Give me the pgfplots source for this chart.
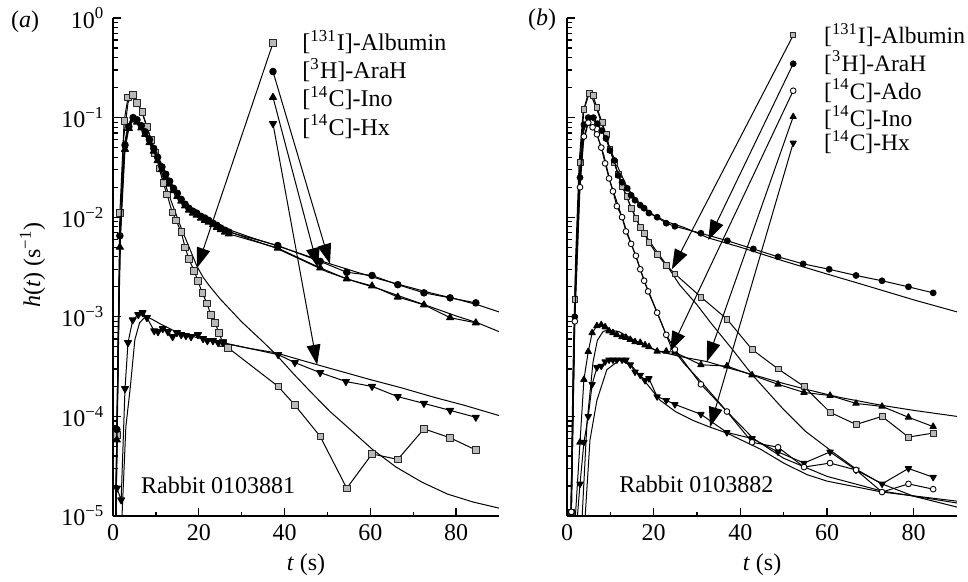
\documentclass[border=0pt]{standalone}
\usepackage{fontspec}
\setmainfont{Liberation Serif}
\usepackage{pgfplots}
\pgfplotsset{compat=1.18}
\usetikzlibrary{arrows.meta}

\pgfplotsset{
  sFit/.style={black, line width=0.4pt, no marks},
  sDat/.style={black, line width=0.4pt, line join=round},
  sAlb/.style={sDat, mark=square*, mark options={fill=gray!55, draw=black!85, line width=0.3pt}},
  sAra/.style={sDat, mark=*, mark options={fill=black}},
  sAdo/.style={sDat, mark=*, mark options={fill=white, draw=black, line width=0.35pt}},
  sIno/.style={sDat, mark=triangle*, mark options={fill=black}},
  sHx/.style={sDat, mark=triangle*, mark options={fill=black, rotate=180}},
  sArr/.style={black, line width=0.4pt, -{Triangle[length=8pt,width=5.5pt]}, mark indices={1}},
}

\begin{document}
\fontsize{9.6pt}{11pt}\selectfont
\begin{tikzpicture}
\useasboundingbox (0,0) rectangle (387.2pt,232.4pt);

% ---------- panel (a) ----------
\begin{axis}[at={(45.2pt,26pt)}, anchor=south west, scale only axis,
  width=154.4pt, height=199.2pt, clip mode=individual,
  ymode=log, xmin=0, xmax=90, ymin=1e-5, ymax=1,
  axis lines=left, axis line style={-, line width=0.6pt},
  xtick={0,20,40,60,80}, minor x tick num=1,
  ytick={1e-5,1e-4,1e-3,1e-2,1e-1,1},
  minor ytick={2e-5,3e-5,4e-5,5e-5,6e-5,7e-5,8e-5,9e-5,
               2e-4,3e-4,4e-4,5e-4,6e-4,7e-4,8e-4,9e-4,
               2e-3,3e-3,4e-3,5e-3,6e-3,7e-3,8e-3,9e-3,
               2e-2,3e-2,4e-2,5e-2,6e-2,7e-2,8e-2,9e-2,
               0.2,0.3,0.4,0.5,0.6,0.7,0.8,0.9},
  tick align=inside, tick style={black, line width=0.5pt},
  major tick length=3.2pt, minor tick length=1.8pt,
  /pgf/number format/assume math mode=true,
  yticklabels={10\textsuperscript{−5},10\textsuperscript{−4},10\textsuperscript{−3},10\textsuperscript{−2},10\textsuperscript{−1},10\textsuperscript{0}},
  mark size=1.3pt]
% fits
\addplot[sFit] coordinates {(0.7,1e-5)(1.2,3.2e-4)(1.7,6.3e-3)(2.5,0.063)(3.5,0.141)(4.5,0.174)(5.5,0.151)(7,0.105)(8.5,0.068)(10,0.043)(12,0.0224)(14,0.0129)(16,0.0076)(18,0.0047)(19.6,0.0032)(21,0.0025)(22.5,0.00204)(25,0.00151)(30,0.00089)(35,0.00056)(38.2,0.00041)(42,0.00027)(46,0.000178)(50.6,0.000112)(55,7.6e-5)(60.4,4.7e-5)(66,3.1e-5)(72,2.19e-5)(78,1.66e-5)(84,1.38e-5)(90,1.2e-5)};
\addplot[sFit] coordinates {(0.7,1e-5)(1.0,1.2e-4)(1.3,1.1e-3)(1.7,7e-3)(2.2,0.028)(2.8,0.058)(3.5,0.084)(4.5,0.098)(5.5,0.092)(7,0.075)(8.5,0.058)(10,0.043)(12,0.028)(14,0.0200)(16,0.0152)(18,0.0125)(20,0.0108)(23,0.0092)(27,0.0075)(32,0.0063)(38,0.0052)(44,0.00427)(50,0.00347)(56,0.00288)(62,0.0024)(68,0.00204)(74,0.00174)(80,0.00151)(85,0.00132)(90,0.00112)};
\addplot[sFit] coordinates {(0.7,1e-5)(1.0,1e-4)(1.3,9e-4)(1.7,6e-3)(2.2,0.025)(2.8,0.053)(3.5,0.079)(4.5,0.093)(5.5,0.088)(7,0.072)(8.5,0.055)(10,0.041)(12,0.027)(14,0.0192)(16,0.0146)(18,0.012)(20,0.0104)(23,0.0088)(27,0.0072)(32,0.0060)(38,0.0049)(44,0.00372)(50,0.00282)(56,0.00229)(62,0.00191)(68,0.00155)(74,0.00126)(80,0.00102)(85,0.00087)(90,0.00071)};
\addplot[sFit] coordinates {(2.1,1e-5)(3.0,7.9e-5)(4.0,1.9e-4)(5.1,5.9e-4)(6.2,8.7e-4)(7.5,1.0e-3)(9,9.5e-4)(11,8.5e-4)(13.8,7.4e-4)(17,6.6e-4)(21.5,5.9e-4)(26,5.4e-4)(32,4.8e-4)(37.8,4.37e-4)(43.6,3.7e-4)(50,3.09e-4)(55,2.69e-4)(60,2.34e-4)(67,1.95e-4)(75,1.55e-4)(82,1.29e-4)(90,1.02e-4)};
% data
\addplot[sAlb] coordinates {(0.4,3e-6)(0.9,6.5e-5)(1.6,1.1e-2)(2.6,0.093)(3.5,0.16)(4.6,0.17)(5.6,0.14)(6.8,0.114)(7.9,0.081)(8.9,0.06)(9.8,0.044)(10.8,0.031)(11.7,0.022)(12.6,0.017)(13.8,0.0112)(14.7,0.0093)(15.9,0.0071)(16.8,0.0050)(17.7,0.0038)(18.9,0.0029)(19.8,0.0023)(20.8,0.00174)(21.9,0.00137)(22.8,0.00105)(23.8,0.00087)(24.7,0.00069)(25.6,0.00055)(26.8,0.00049)(38.5,0.00020)(42.4,0.00013)(48.3,6.3e-5)(54.5,1.9e-5)(60.4,4.2e-5)(66.4,3.7e-5)(72.5,7.5e-5)(78.6,6.1e-5)(84.6,4.6e-5)};
\addplot[sIno, mark size=1.6pt] coordinates {(0.4,3e-6)(0.9,5.8e-5)(1.6,5e-3)(2.8,0.048)(3.7,0.078)(4.7,0.095)(5.6,0.09)(6.6,0.079)(7.5,0.068)(8.5,0.056)(9.5,0.046)(10.4,0.037)(11.4,0.030)(12.3,0.025)(13.2,0.0215)(14.1,0.0185)(15.0,0.0162)(15.9,0.0145)(16.8,0.013)(17.7,0.0118)(18.6,0.011)(19.5,0.0105)(20.5,0.0098)(21.4,0.0093)(22.3,0.0089)(23.3,0.0084)(24.2,0.0079)(25.1,0.0075)(26.1,0.0071)(27.0,0.0068)(38.4,0.0049)(48.3,0.0031)(54.5,0.0024)(60.4,0.00204)(66.4,0.00158)(72.5,0.00132)(78.6,0.00098)(84.6,0.00087)};
\addplot[sAra] coordinates {(0.4,3e-6)(0.9,7.4e-5)(1.6,6.5e-3)(2.8,0.053)(3.7,0.081)(4.7,0.10)(5.6,0.095)(6.6,0.083)(7.5,0.072)(8.5,0.060)(9.5,0.049)(10.4,0.040)(11.4,0.032)(12.3,0.027)(13.2,0.023)(14.1,0.0195)(15.0,0.0174)(15.9,0.0151)(16.8,0.0135)(17.7,0.0123)(18.6,0.0115)(19.5,0.011)(20.5,0.0102)(21.4,0.0098)(22.3,0.0093)(23.3,0.0087)(24.2,0.0083)(25.1,0.0078)(26.1,0.0074)(27.0,0.0071)(38.4,0.0052)(48.3,0.0036)(54.5,0.0028)(60.4,0.0026)(66.4,0.0021)(72.5,0.00174)(78.6,0.00155)(84.6,0.00138)};
\addplot[sHx, mark size=1.6pt] coordinates {(0.9,1.9e-5)(1.9,1.45e-5)(2.8,1.9e-4)(3.5,5.5e-4)(4.6,9.3e-4)(5.9,1.05e-3)(6.9,1.1e-3)(7.9,9.8e-4)(9.6,7.24e-4)(10.5,7.08e-4)(11.6,7.59e-4)(12.8,7.08e-4)(13.9,6.31e-4)(14.9,6.92e-4)(15.9,6.61e-4)(17.0,6.46e-4)(18.2,6.31e-4)(19.8,6.61e-4)(21,6.03e-4)(22,5.75e-4)(23.3,5.75e-4)(24.5,5.5e-4)(25.6,5.5e-4)(38.5,4.17e-4)(42.4,3.47e-4)(48.3,2.75e-4)(54.3,2.24e-4)(60.4,2.0e-4)(66.4,1.58e-4)(72.5,1.35e-4)(78.6,1.15e-4)(84.6,9.8e-5)};
% key arrows
\addplot[sAlb, sArr] coordinates {(37.3,0.56)(19.6,3.1e-3)};
\addplot[sAra, sArr] coordinates {(37.3,0.29)(50.6,3.4e-3)};
\addplot[sIno, sArr, mark size=1.6pt] coordinates {(37.3,0.16)(47.8,3.1e-3)};
\addplot[sHx, sArr, mark size=1.6pt] coordinates {(37.3,0.087)(47.6,3.3e-4)};
\node[anchor=west] at (axis cs:42.2,0.575) {[\textsuperscript{131}I]-Albumin};
\node[anchor=west] at (axis cs:42.2,0.302) {[\textsuperscript{3}H]-AraH};
\node[anchor=west] at (axis cs:42.2,0.158) {[\textsuperscript{14}C]-Ino};
\node[anchor=west] at (axis cs:42.2,0.0813) {[\textsuperscript{14}C]-Hx};
\node[anchor=west] at (axis cs:4.6,2.05e-5) {Rabbit 0103881};
\end{axis}

% ---------- panel (b) ----------
\begin{axis}[at={(226.8pt,26pt)}, anchor=south west, scale only axis,
  width=156pt, height=199.2pt, clip mode=individual,
  ymode=log, xmin=0, xmax=90, ymin=1e-5, ymax=1,
  axis lines=left, axis line style={-, line width=0.6pt},
  xtick={0,20,40,60,80}, minor x tick num=1,
  ytick={1e-5,1e-4,1e-3,1e-2,1e-1,1},
  minor ytick={2e-5,3e-5,4e-5,5e-5,6e-5,7e-5,8e-5,9e-5,
               2e-4,3e-4,4e-4,5e-4,6e-4,7e-4,8e-4,9e-4,
               2e-3,3e-3,4e-3,5e-3,6e-3,7e-3,8e-3,9e-3,
               2e-2,3e-2,4e-2,5e-2,6e-2,7e-2,8e-2,9e-2,
               0.2,0.3,0.4,0.5,0.6,0.7,0.8,0.9},
  tick align=inside, tick style={black, line width=0.5pt},
  major tick length=3.2pt, minor tick length=1.8pt,
  /pgf/number format/assume math mode=true,
  yticklabels={,,,,,}, mark size=1.15pt]
% fits
\addplot[sFit] coordinates {(0.9,1e-5)(1.4,3.2e-4)(2.0,4e-3)(2.8,0.0355)(3.7,0.112)(4.8,0.17)(5.8,0.158)(7,0.117)(8.5,0.076)(10,0.047)(12,0.025)(14,0.0151)(16.9,0.0079)(20,0.005)(23.3,0.00316)(26,0.00209)(30,0.00132)(33,8.9e-4)(38,4.8e-4)(42.7,2.63e-4)(50,1.17e-4)(55,7.1e-5)(60.7,4.6e-5)(67,2.9e-5)(72.7,2.1e-5)(80,1.58e-5)(90,1.23e-5)};
\addplot[sFit] coordinates {(0.9,1e-5)(1.4,2e-4)(2.0,3e-3)(2.8,0.022)(3.7,0.07)(4.8,0.098)(5.8,0.097)(7,0.085)(8.5,0.068)(10,0.048)(12,0.03)(14,0.0195)(16,0.0150)(18,0.0123)(20,0.0105)(23,0.009)(27,0.0079)(32.6,0.0062)(40,0.005)(50,0.00363)(60,0.00269)(70,0.002)(80,0.00148)(90,0.00112)};
\addplot[sFit] coordinates {(0.9,1e-5)(1.4,2e-4)(2.0,2.5e-3)(2.8,0.018)(3.7,0.055)(4.8,0.085)(5.8,0.082)(7,0.066)(8.5,0.042)(10,0.0224)(12,0.0123)(14,0.0068)(16,0.0039)(18,0.0022)(20,0.00135)(24,5e-4)(27,3.4e-4)(30.9,2.24e-4)(36.9,1.12e-4)(43,6e-5)(50,3.8e-5)(60,2.5e-5)(72.7,1.78e-5)(90,1.35e-5)};
\addplot[sFit] coordinates {(3.5,1e-5)(4.6,8.5e-5)(6.0,3.5e-4)(7,5.8e-4)(8.3,7.1e-4)(9.5,7.4e-4)(12,7.1e-4)(15,6.0e-4)(18,5.1e-4)(21.5,4.47e-4)(26,4.0e-4)(32.3,3.55e-4)(38,3.0e-4)(44.6,2.5e-4)(50,2.14e-4)(55.4,1.86e-4)(63,1.55e-4)(72.7,1.29e-4)(80,1.15e-4)(90,1.0e-4)};
\addplot[sFit] coordinates {(4.2,1e-5)(5.3,5.8e-5)(6.9,1.45e-4)(9.2,2.95e-4)(12.2,3.7e-4)(15,3.2e-4)(18,2.24e-4)(21.5,1.45e-4)(25,1.12e-4)(29.1,9.1e-5)(33,7.8e-5)(36.9,6.8e-5)(44.6,4.7e-5)(50,3.4e-5)(55.4,2.6e-5)(60,2.24e-5)(72.7,1.74e-5)(90,1.41e-5)};
% data
\addplot[sAlb] coordinates {(1.0,1.1e-5)(1.8,1.5e-3)(3.0,0.0355)(3.9,0.12)(5.1,0.174)(6.0,0.166)(6.9,0.126)(8.1,0.089)(9.0,0.068)(9.9,0.048)(10.9,0.0355)(11.8,0.027)(12.7,0.0204)(13.8,0.0162)(14.8,0.0123)(15.9,0.0098)(16.9,0.0079)(17.8,0.0069)(18.9,0.0056)(20.8,0.0042)(22.9,0.0033)(24.9,0.0027)(30.9,0.00158)(36.9,0.00095)(42.7,0.00047)(48.7,0.0003)(54.7,0.0002)(60.7,0.00011)(66.7,8.3e-5)(72.7,1.0e-4)(78.8,6.2e-5)(84.5,6.8e-5)};
\addplot[sAra] coordinates {(1.0,1.1e-5)(1.8,1.0e-3)(3.0,0.025)(3.9,0.085)(4.9,0.10)(6.1,0.10)(7.0,0.087)(8.0,0.074)(9.0,0.0617)(9.9,0.0468)(10.9,0.0372)(11.8,0.0263)(12.7,0.0224)(13.9,0.0195)(14.8,0.0166)(15.7,0.0148)(16.9,0.0132)(17.8,0.0123)(18.9,0.011)(20.8,0.010)(22.9,0.0087)(24.9,0.0081)(30.9,0.0069)(37,0.0058)(43,0.0048)(48.7,0.004)(54.5,0.0034)(60.5,0.003)(66.7,0.0026)(72.7,0.0023)(78.8,0.002)(84.5,0.00174)};
\addplot[sIno, mark size=1.45pt] coordinates {(1.8,8e-6)(3.0,5.5e-5)(3.9,2.34e-4)(4.9,4.47e-4)(5.8,6.9e-4)(6.9,8.1e-4)(7.9,8.3e-4)(8.8,7.9e-4)(9.7,7.2e-4)(10.6,6.9e-4)(11.5,6.6e-4)(12.7,6.3e-4)(13.6,6.2e-4)(14.6,5.9e-4)(15.7,5.6e-4)(16.9,5.5e-4)(18.0,5.2e-4)(18.9,5.0e-4)(20.8,4.5e-4)(22.9,4.5e-4)(24.9,4.4e-4)(30.9,3.3e-4)(36.9,3.2e-4)(42.7,2.6e-4)(48.7,2.1e-4)(54.7,1.74e-4)(60.7,1.62e-4)(66.7,1.35e-4)(72.7,1.26e-4)(78.8,9.8e-5)(84.5,7.9e-5)};
\addplot[sHx, mark size=1.45pt] coordinates {(2.0,6e-6)(3.0,2.1e-5)(3.9,5.5e-5)(4.9,1.0e-4)(5.8,2.1e-4)(6.9,3.1e-4)(7.9,3.2e-4)(8.8,3.55e-4)(9.7,3.7e-4)(10.6,3.7e-4)(11.5,3.7e-4)(12.7,3.7e-4)(13.6,3.7e-4)(14.6,3.3e-4)(15.7,2.8e-4)(16.9,2.6e-4)(18.0,2.3e-4)(18.9,2.4e-4)(20.8,1.58e-4)(22.9,1.45e-4)(24.9,1.32e-4)(30.9,1.05e-4)(36.9,6.9e-5)(42.7,6.0e-5)(48.7,4.4e-5)(54.7,3.4e-5)(60.7,4.4e-5)(66.7,2.9e-5)(72.7,2.1e-5)(78.8,3.0e-5)(84.5,2.45e-5)};
\addplot[sAdo] coordinates {(1.0,1.1e-5)(1.8,9e-4)(3.0,0.020)(3.9,0.0646)(4.9,0.089)(5.9,0.08)(6.9,0.068)(7.9,0.050)(8.8,0.0347)(9.7,0.0245)(10.6,0.0182)(11.5,0.0129)(12.7,0.01)(13.6,0.0072)(14.8,0.0054)(15.9,0.0041)(16.9,0.003)(17.8,0.0023)(18.7,0.0018)(20.8,0.0011)(22.9,0.00066)(24.9,0.00047)(30.9,0.00021)(36.9,0.000112)(42.7,5.5e-5)(48.7,4.9e-5)(54.7,3.1e-5)(60.7,3.4e-5)(66.7,2.9e-5)(72.7,1.74e-5)(78.8,2.1e-5)(84.5,1.86e-5)};
% key arrows
\addplot[sAlb, sArr, mark size=1.0pt] coordinates {(52.2,0.67)(24.2,0.003)};
\addplot[sAra, sArr] coordinates {(52.2,0.347)(32.6,0.0059)};
\addplot[sAdo, sArr] coordinates {(52.2,0.186)(23.8,4.5e-4)};
\addplot[sIno, sArr, mark size=1.4pt] coordinates {(52.2,0.102)(32.3,3.55e-4)};
\addplot[sHx, sArr, mark size=1.4pt] coordinates {(52.2,0.0556)(33.0,7.8e-5)};
\begin{scope}[font=\fontsize{9.4pt}{11pt}\selectfont]
\node[anchor=west] at (axis cs:57.4,0.67) {[\textsuperscript{131}I]-Albumin};
\node[anchor=west] at (axis cs:57.4,0.355) {[\textsuperscript{3}H]-AraH};
\node[anchor=west] at (axis cs:57.4,0.186) {[\textsuperscript{14}C]-Ado};
\node[anchor=west] at (axis cs:57.4,0.1) {[\textsuperscript{14}C]-Ino};
\node[anchor=west] at (axis cs:57.4,0.0565) {[\textsuperscript{14}C]-Hx};
\end{scope}
\node[anchor=west] at (axis cs:10.1,2.1e-5) {Rabbit 0103882};
\end{axis}

% labels outside the axes
\node[rotate=90] at (13pt,126.4pt) {\textit{h}(\textit{t}) (s\textsuperscript{−1})};
\node at (122.4pt,6.6pt) {\textit{t} (s)};
\node at (304.8pt,6.6pt) {\textit{t} (s)};
\node at (10pt,223.6pt) {(\textit{a})};
\node at (216.8pt,224.4pt) {(\textit{b})};
\end{tikzpicture}
\end{document}
